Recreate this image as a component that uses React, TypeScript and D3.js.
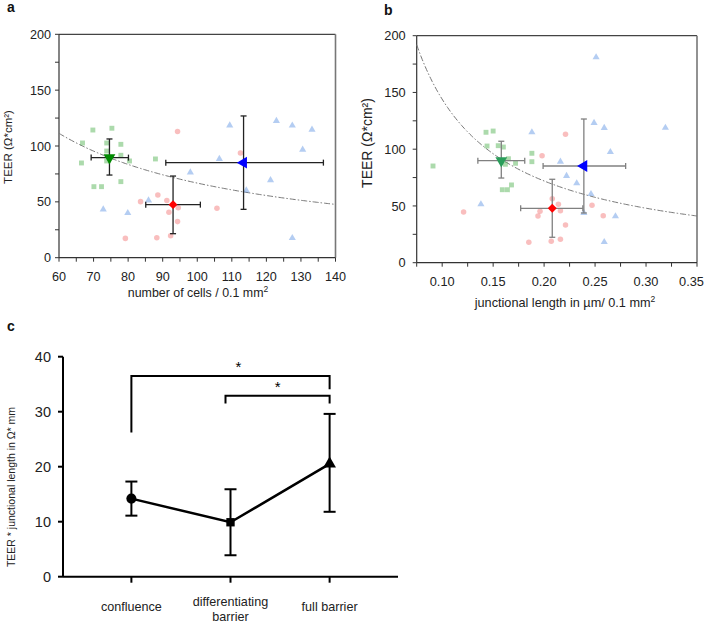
import React from "react";
import * as d3 from "d3";

// ---------- Panel a data (number of cells vs TEER) ----------
const aGreenX = [69.8, 75.3, 66.8, 73.8, 77.9, 66.5, 73.8, 73.8, 77.9, 80.4, 87.9, 70.1, 72.3, 77.9];
const aGreenY = [114.3, 115.9, 102.7, 102.7, 101.5, 84.8, 95.5, 86.6, 91.7, 86.6, 88.4, 63.6, 63.6, 68.1];
const aRedX = [94.3, 112.5, 88.6, 83.6, 91.2, 94.5, 91.8, 105.7, 94.3, 79.2, 88.3, 92.3];
const aRedY = [112.9, 93.7, 56.1, 50.2, 51.3, 44.8, 40.6, 44.2, 32.3, 17.3, 17.9, 19.7];
const aBlueX = [109.4, 122.9, 127.5, 133.2, 130.5, 106.4, 98.0, 121.2, 114.2, 85.9, 72.8, 79.9, 127.5];
const aBlueY = [118.5, 122.4, 118.3, 114.7, 96.8, 88.4, 76.4, 69.5, 60.3, 51.3, 43.3, 40.0, 17.6];
// means: [x, y, xLo, xHi, yLo, yHi]
const aMeanGreen = [74.6, 89.6, 69.3, 80.1, 74.0, 106.3];
const aMeanRed = [93.0, 47.5, 85.1, 100.9, 21.5, 73.1];
const aMeanBlue = [113.4, 85.1, 90.9, 136.5, 43.3, 126.9];
const aFitK = 6680;
const aXTicks = [60, 70, 80, 90, 100, 110, 120, 130, 140];
const aYTicks = [0, 50, 100, 150, 200];

// ---------- Panel b data (junctional length vs TEER) ----------
const bGreenX = [0.091, 0.143, 0.150, 0.144, 0.155, 0.160, 0.188, 0.188, 0.165, 0.162, 0.172, 0.159, 0.164, 0.168];
const bGreenY = [85.2, 114.9, 116.0, 102.8, 103.1, 101.9, 96.4, 89.0, 91.6, 86.7, 87.6, 64.3, 64.3, 68.5];
const bRedX = [0.221, 0.198, 0.208, 0.214, 0.196, 0.194, 0.216, 0.247, 0.258, 0.221, 0.121, 0.185, 0.207, 0.216];
const bRedY = [113.1, 94.3, 56.4, 51.5, 45.3, 41.1, 45.8, 50.6, 41.4, 33.2, 44.7, 18.0, 18.9, 20.6];
const bBlueX = [0.251, 0.188, 0.249, 0.259, 0.319, 0.265, 0.216, 0.222, 0.232, 0.246, 0.239, 0.270, 0.138, 0.259];
const bBlueY = [181.0, 114.9, 123.1, 118.7, 118.9, 97.5, 89.0, 76.4, 70.0, 60.5, 43.8, 40.9, 51.5, 18.2];
const bMeanGreen = [0.158, 89.9, 0.135, 0.181, 74.6, 107.0];
const bMeanRed = [0.208, 47.9, 0.177, 0.238, 22.4, 73.5];
const bMeanBlue = [0.239, 85.2, 0.199, 0.280, 43.8, 126.6];
const bFitK = 14.4;
const bXTicks = [0.1, 0.15, 0.2, 0.25, 0.3, 0.35];
const bYTicks = [0, 50, 100, 150, 200];

// ---------- Panel c data ----------
const cCategories = ["confluence", "differentiating barrier", "full barrier"];
const cLabelLines = [["confluence"], ["differentiating", "barrier"], ["full barrier"]];
const cValues = [14.2, 9.9, 20.5];
const cLow = [11.1, 3.9, 11.8];
const cHigh = [17.3, 15.9, 29.6];
const cYTicks = [0, 10, 20, 30, 40];

const FONT = "'Liberation Sans', Arial, Helvetica, sans-serif";
const W = 708;

type Scale = d3.ScaleLinear<number, number>;

function symPath(type: d3.SymbolType, size: number) {
  return d3.symbol().type(type).size(size)() as string;
}

function Scatter({ xs, ys, x, y, kind, fill }: { xs: number[]; ys: number[]; x: Scale; y: Scale; kind: string; fill: string }) {
  const type = kind === "square" ? d3.symbolSquare : kind === "circle" ? d3.symbolCircle : d3.symbolTriangle;
  const size = kind === "square" ? 24 : kind === "circle" ? 24 : 22;
  const p = symPath(type, size);
  return (
    <g>
      {xs.map((v, i) => (
        <path key={i} d={p} transform={`translate(${x(v)},${y(ys[i])})`} fill={fill} fillOpacity={0.42} />
      ))}
    </g>
  );
}

function MeanMarker({ m, x, y, kind, fill, barColor }: { m: number[]; x: Scale; y: Scale; kind: string; fill: string; barColor: string }) {
  const cx = x(m[0]);
  const cy = y(m[1]);
  const x0 = x(m[2]), x1 = x(m[3]), y0 = y(m[4]), y1 = y(m[5]);
  const cap = 3;
  let p: string;
  let rot = 0;
  if (kind === "down") { p = symPath(d3.symbolTriangle, 60); rot = 180; }
  else if (kind === "left") { p = symPath(d3.symbolTriangle, 60); rot = -90; }
  else { p = symPath(d3.symbolSquare, 40); rot = 45; }
  return (
    <g>
      <g stroke={barColor} strokeWidth={1.3} fill="none">
        <line x1={x0} x2={x1} y1={cy} y2={cy} />
        <line x1={x0} x2={x0} y1={cy - cap} y2={cy + cap} />
        <line x1={x1} x2={x1} y1={cy - cap} y2={cy + cap} />
        <line x1={cx} x2={cx} y1={y0} y2={y1} />
        <line x1={cx - cap} x2={cx + cap} y1={y0} y2={y0} />
        <line x1={cx - cap} x2={cx + cap} y1={y1} y2={y1} />
      </g>
      <path d={p} transform={`translate(${cx},${cy}) rotate(${rot})`} fill={fill} />
    </g>
  );
}

function ScatterPanel(props: {
  left: number; right: number; top: number; bottom: number;
  xDomain: [number, number]; xTicks: number[]; xMinorStep: number; xFmt: (v: number) => string;
  yTicks: number[]; fitK: number;
  greenX: number[]; greenY: number[]; redX: number[]; redY: number[]; blueX: number[]; blueY: number[];
  mGreen: number[]; mRed: number[]; mBlue: number[];
  barColor: string; greenMean: string; yLabelGap: number;
  tickFont: number; xLabelFont: number; yLabelFont: number; tickDy: number;
  xLabel: React.ReactNode; xLabelX: number; xLabelY: number; yLabelX: number; yLabelY: number;
  panel: string; panelX: number; panelY: number;
}) {
  const { left, right, top, bottom } = props;
  const x = d3.scaleLinear().domain(props.xDomain).range([left, right]);
  const y = d3.scaleLinear().domain([0, 200]).range([bottom, top]);
  const minorX = d3.range(props.xDomain[0], props.xDomain[1] + 1e-9, props.xMinorStep);
  const minorY = d3.range(0, 200.001, 25);
  const fitXs = d3.range(0, 201).map((i) => props.xDomain[0] + (i / 200) * (props.xDomain[1] - props.xDomain[0]));
  const line = d3.line<number>().x((v) => x(v)).y((v) => y(Math.min(200, props.fitK / v)));
  return (
    <g fontFamily={FONT}>
      <text x={props.panelX} y={props.panelY} fontWeight="bold" fontSize={14} fill="#111">{props.panel}</text>
      {/* frame */}
      <line x1={left} x2={right} y1={top} y2={top} stroke="#444" strokeWidth={1.2} />
      <line x1={right} x2={right} y1={top} y2={bottom} stroke="#777" strokeWidth={1.6} />
      <line x1={left} x2={left} y1={top} y2={bottom} stroke="#333" strokeWidth={1.2} />
      <line x1={left} x2={right} y1={bottom} y2={bottom} stroke="#333" strokeWidth={1.2} />
      {minorX.map((v, i) => (
        <line key={"mx" + i} x1={x(v)} x2={x(v)} y1={bottom} y2={bottom + 4} stroke="#333" strokeWidth={1} />
      ))}
      {minorY.map((v, i) => (
        <line key={"my" + i} x1={left - 4} x2={left} y1={y(v)} y2={y(v)} stroke="#333" strokeWidth={1} />
      ))}
      {props.xTicks.map((v) => {
        const px = x(v);
        const nearEdge = px > W - 20;
        return (
          <text key={"xt" + v} x={nearEdge ? W - 4 : px} y={bottom + props.tickDy} textAnchor={nearEdge ? "end" : "middle"} fontSize={props.tickFont} fill="#222">{props.xFmt(v)}</text>
        );
      })}
      {props.yTicks.map((v) => (
        <text key={"yt" + v} x={left - props.yLabelGap} y={y(v)} dy="0.36em" textAnchor="end" fontSize={props.tickFont} fill="#222">{v}</text>
      ))}
      <text x={props.xLabelX} y={props.xLabelY} textAnchor="middle" fontSize={props.xLabelFont} fill="#222">{props.xLabel}</text>
      <text transform={`translate(${props.yLabelX},${props.yLabelY}) rotate(-90)`} textAnchor="middle" fontSize={props.yLabelFont} fill="#222">
        TEER (Ω*cm²)
      </text>
      <path d={line(fitXs) as string} fill="none" stroke="#777" strokeWidth={1} strokeDasharray="6,2,1.5,2" />
      <Scatter xs={props.greenX} ys={props.greenY} x={x} y={y} kind="square" fill="#3aa83a" />
      <Scatter xs={props.redX} ys={props.redY} x={x} y={y} kind="circle" fill="#f06464" />
      <Scatter xs={props.blueX} ys={props.blueY} x={x} y={y} kind="triangle" fill="#4d88e0" />
      <MeanMarker m={props.mBlue} x={x} y={y} kind="left" fill="#0000ff" barColor={props.barColor} />
      <MeanMarker m={props.mRed} x={x} y={y} kind="diamond" fill="#ff0000" barColor={props.barColor} />
      <MeanMarker m={props.mGreen} x={x} y={y} kind="down" fill={props.greenMean} barColor={props.barColor} />
    </g>
  );
}

function PanelC() {
  const left = 63, right = 398, top = 356.7, bottom = 576.7;
  const x = d3.scalePoint<string>().domain(cCategories).range([left, right]).padding(0.69);
  const y = d3.scaleLinear().domain([0, 40]).range([bottom, top]);
  const line = d3.line<number>().x((_, i) => x(cCategories[i]) as number).y((v) => y(v));
  const cap = 6;
  const x0 = x(cCategories[0]) as number, x1 = x(cCategories[1]) as number, x2 = x(cCategories[2]) as number;
  return (
    <g fontFamily={FONT}>
      <text x={7} y={331} fontWeight="bold" fontSize={14} fill="#111">c</text>
      <line x1={left} x2={left} y1={top} y2={bottom} stroke="#000" strokeWidth={2} />
      <line x1={left} x2={right} y1={bottom} y2={bottom} stroke="#000" strokeWidth={2} />
      {cYTicks.map((v) => (
        <g key={v}>
          <line x1={left - 5} x2={left} y1={y(v)} y2={y(v)} stroke="#000" strokeWidth={2} />
          <text x={left - 12} y={y(v)} dy="0.36em" textAnchor="end" fontSize={14.5} fill="#222">{v}</text>
        </g>
      ))}
      {cCategories.map((c, i) => (
        <g key={c}>
          <line x1={x(c) as number} x2={x(c) as number} y1={bottom} y2={bottom + 6} stroke="#000" strokeWidth={2} />
          {cLabelLines[i].map((t, j) => (
            <text key={t} x={x(c) as number} y={(cLabelLines[i].length > 1 ? 606 : 611) + j * 15} textAnchor="middle" fontSize={12.6} fill="#222">{t}</text>
          ))}
        </g>
      ))}
      <text transform={`translate(14.5,487) rotate(-90)`} textAnchor="middle" fontSize={10.5} fill="#222">
        TEER * junctional length in Ω* mm
      </text>
      {/* error bars */}
      {cCategories.map((c, i) => {
        const cx = x(c) as number;
        return (
          <g key={"e" + c} stroke="#000" strokeWidth={2}>
            <line x1={cx} x2={cx} y1={y(cLow[i])} y2={y(cHigh[i])} />
            <line x1={cx - cap} x2={cx + cap} y1={y(cLow[i])} y2={y(cLow[i])} />
            <line x1={cx - cap} x2={cx + cap} y1={y(cHigh[i])} y2={y(cHigh[i])} />
          </g>
        );
      })}
      <path d={line(cValues) as string} fill="none" stroke="#000" strokeWidth={2.5} />
      <path d={symPath(d3.symbolCircle, 80)} transform={`translate(${x0},${y(cValues[0])})`} fill="#000" />
      <path d={symPath(d3.symbolSquare, 70)} transform={`translate(${x1},${y(cValues[1])})`} fill="#000" />
      <path d={symPath(d3.symbolTriangle, 70)} transform={`translate(${x2},${y(cValues[2])})`} fill="#000" />
      {/* significance brackets */}
      <path d={`M${x0},${y(26.2)}V${y(36.5)}H${x2}V${y(34.1)}`} fill="none" stroke="#000" strokeWidth={2} />
      <text x={(x0 + x2) / 2 + 8} y={y(36.5) - 4} textAnchor="middle" fontSize={15} fill="#000">*</text>
      <path d={`M${x1 - 5},${y(31.5)}V${y(32.9)}H${x2}V${y(31.5)}`} fill="none" stroke="#000" strokeWidth={2} />
      <text x={(x1 - 5 + x2) / 2} y={y(32.9) - 4} textAnchor="middle" fontSize={15} fill="#000">*</text>
    </g>
  );
}

export default function App() {
  return (
    <svg width={W} height={625} style={{ position: "absolute", left: 0, top: 0, background: "#fff" }}>
      <rect width={W} height={625} fill="#fff" />
      <ScatterPanel
        left={59} right={335.5} top={34.3} bottom={257.7}
        xDomain={[60, 140]} xTicks={aXTicks} xMinorStep={5} xFmt={(v) => String(v)}
        yTicks={aYTicks} fitK={aFitK}
        greenX={aGreenX} greenY={aGreenY} redX={aRedX} redY={aRedY} blueX={aBlueX} blueY={aBlueY}
        mGreen={aMeanGreen} mRed={aMeanRed} mBlue={aMeanBlue}
        barColor="#222" greenMean="#008a00" yLabelGap={8}
        tickFont={12.6} xLabelFont={12.4} yLabelFont={11.5} tickDy={23}
        xLabel={<>number of cells / 0.1 mm<tspan dy="-5" fontSize={8.5}>2</tspan></>}
        xLabelX={198} xLabelY={297} yLabelX={12} yLabelY={147}
        panel="a" panelX={7} panelY={12}
      />
      <ScatterPanel
        left={416.7} right={697} top={35.7} bottom={262.7}
        xDomain={[0.075, 0.35]} xTicks={bXTicks} xMinorStep={0.025} xFmt={(v) => v.toFixed(2)}
        yTicks={bYTicks} fitK={bFitK}
        greenX={bGreenX} greenY={bGreenY} redX={bRedX} redY={bRedY} blueX={bBlueX} blueY={bBlueY}
        mGreen={bMeanGreen} mRed={bMeanRed} mBlue={bMeanBlue}
        barColor="#808080" greenMean="#2a9d5a" yLabelGap={11}
        tickFont={12.8} xLabelFont={12.7} yLabelFont={14} tickDy={23}
        xLabel={<>junctional length in µm/ 0.1 mm<tspan dy="-5" fontSize={8.5}>2</tspan></>}
        xLabelX={565} xLabelY={307} yLabelX={371.5} yLabelY={143}
        panel="b" panelX={384} panelY={15}
      />
      <PanelC />
    </svg>
  );
}
